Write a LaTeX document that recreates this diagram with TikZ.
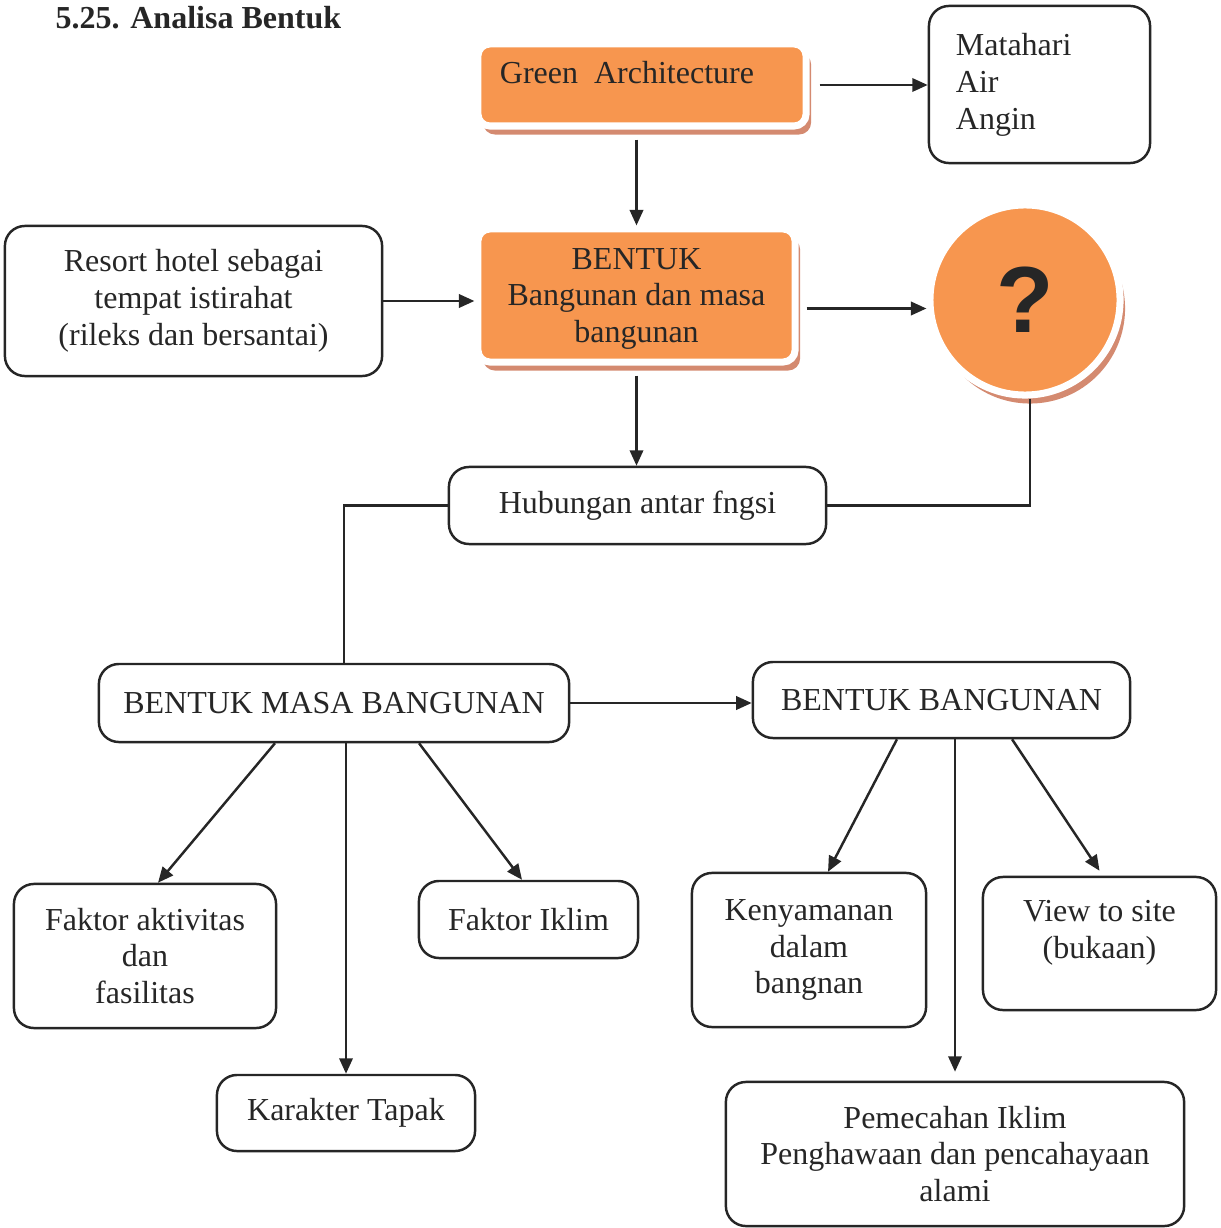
\documentclass[tikz,border=0pt]{standalone}
\usepackage{fontspec}
\setmainfont{Liberation Serif}
\newfontfamily\qfont{Liberation Sans}
\usetikzlibrary{arrows.meta, shadows}

\definecolor{boxorange}{HTML}{F7964F}
\definecolor{shadowred}{HTML}{D48A70}
\definecolor{inkgray}{HTML}{262626}

\begin{document}
\begin{tikzpicture}[x=0.01cm, y=-0.01cm, >={Triangle[length=4.4pt, width=3.8pt]},
    every node/.style={font=\fontsize{9.1}{10.5}\selectfont, text=inkgray},
    plainbox/.style={draw=inkgray, line width=0.7pt, rounded corners=0.2cm,
        inner sep=0pt, align=center},
    orangebox/.style={fill=boxorange, draw=white, line width=2pt,
        rounded corners=0.12cm, inner sep=0pt, align=center,
        drop shadow={shadow xshift=0.05cm, shadow yshift=-0.085cm,
            fill=shadowred, opacity=1}},
    link/.style={draw=inkgray, line width=0.7pt}]

    \useasboundingbox (0,0) rectangle (1220,1228);

    % 1. Heading
    \node[font=\fontsize{9.1}{10.5}\selectfont\bfseries, anchor=west, inner sep=0pt]
        (title) at (55,18) {5.25. Analisa Bentuk};

    % 2. Orange blocks on top
    \node[orangebox, minimum width=3.28cm, text width=2.84cm, align=left,
        inner xsep=0.22cm, text height=0.40cm, text depth=0.42cm]
        (green) at (642,85) {Green\ \,Architecture};

    \node[orangebox, minimum width=3.17cm, minimum height=1.33cm, text depth=0pt]
        (bentuk) at (636.5,295.5) {BENTUK\\Bangunan dan masa\\bangunan};

    \node[orangebox, circle, minimum size=1.9cm]
        (q) at (1025,300) {\qfont\bfseries\fontsize{26.7}{28}\selectfont ?};

    % 3. Plain boxes
    \node[plainbox, align=left, minimum width=2.21cm, minimum height=1.57cm,
        text width=1.67cm, inner xsep=0.27cm]
        (mat) at (1039.5,84.5) {Matahari\\Air\\Angin};

    \node[plainbox, minimum width=3.77cm, minimum height=1.5cm]
        (resort) at (193.5,301) {Resort hotel sebagai\\tempat istirahat\\(rileks dan bersantai)};

    \node[plainbox, minimum width=3.77cm, minimum height=0.77cm]
        (hub) at (637.5,505.5) {Hubungan antar fngsi};

    \node[plainbox, minimum width=4.70cm, minimum height=0.78cm]
        (bmb) at (334,703) {BENTUK MASA BANGUNAN};

    \node[plainbox, minimum width=3.77cm, minimum height=0.76cm]
        (bb) at (941.5,700) {BENTUK BANGUNAN};

    \node[plainbox, minimum width=2.62cm, minimum height=1.44cm]
        (fakt) at (145,956) {Faktor aktivitas\\dan\\fasilitas};

    \node[plainbox, minimum width=2.19cm, minimum height=0.77cm]
        (fikl) at (528.5,919.5) {Faktor Iklim};

    \node[plainbox, minimum width=2.58cm, minimum height=0.76cm]
        (kar) at (346,1113) {Karakter Tapak};

    \node[plainbox, minimum width=2.34cm, minimum height=1.54cm]
        (ken) at (809,950) {Kenyamanan\\dalam\\bangnan};

    \node[plainbox, minimum width=2.33cm, minimum height=1.33cm, text depth=0.28cm]
        (view) at (1099.5,943.5) {View to site\\(bukaan)};

    \node[plainbox, minimum width=4.58cm, minimum height=1.44cm]
        (pem) at (955,1154) {Pemecahan Iklim\\Penghawaan dan pencahayaan\\alami};

    % 4. Connectors in the upper half
    \draw[link, ->, shorten <=0.1cm] (green.east) -- (green.east -| mat.west);
    \draw[link, ->, shorten <=0.1cm] (bentuk.north |- green.south) -- (bentuk.north);
    \draw[link, ->] (resort.east) -- (resort.east -| bentuk.west);
    \draw[link, ->, shorten <=0.08cm]
        ([yshift=-0.13cm]bentuk.east) -- ([yshift=-0.13cm]bentuk.east -| q.west);
    \draw[link, ->, shorten <=0.1cm] (bentuk.south) -- (bentuk.south |- hub.north);
    \draw[link] ([xshift=0.05cm]q.south) |- (hub.east);
    \draw[link] (hub.west) -| ([xshift=0.1cm]bmb.north);

    % 5. Connectors in the lower half
    \draw[link, ->] (bmb.east) -- (bmb.east -| bb.west);
    \draw[link, ->] ([xshift=-0.59cm]bmb.south) -- ([xshift=0.13cm]fakt.north);
    \draw[link, ->] (kar.north |- bmb.south) -- (kar.north);
    \draw[link, ->] ([xshift=0.85cm]bmb.south) -- ([xshift=-0.065cm]fikl.north);
    \draw[link, ->] ([xshift=-0.445cm]bb.south) -- ([xshift=0.19cm]ken.north);
    \draw[link, ->, shorten >=0.09cm] (pem.north |- bb.south) -- (pem.north);
    \draw[link, ->] ([xshift=0.705cm]bb.south) -- ([yshift=0.05cm]view.north);
\end{tikzpicture}
\end{document}
